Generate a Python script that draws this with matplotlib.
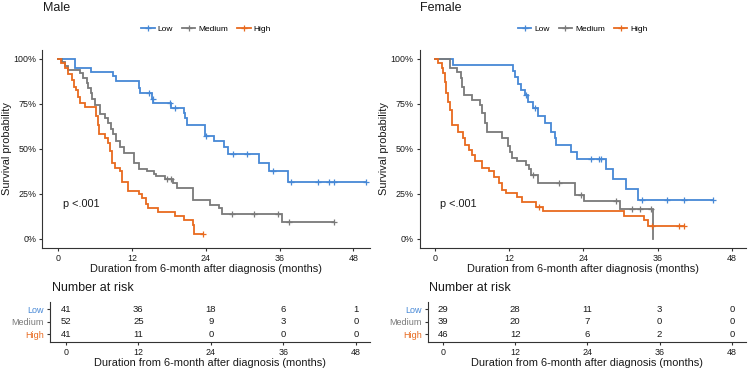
import matplotlib
matplotlib.use("Agg")
import matplotlib.pyplot as plt
from matplotlib.lines import Line2D
import numpy as np

plt.rcParams['font.family'] = ['Liberation Sans', 'DejaVu Sans']

groups = ["Low", "Medium", "High"]
colors = ["#4788D6", "#7A7A7A", "#E86A1F"]
risk_times = [0, 12, 24, 36, 48]

# ---------------- Male ----------------
male_low_t = [2.8, 5.3, 8.9, 9.5, 13.1, 13.3, 15.2, 15.5, 18.3, 20.4, 20.7, 21.0,
              23.9, 25.4, 26.9, 27.7, 32.6, 34.3, 37.3]
male_low_s = [0.952, 0.929, 0.904, 0.879, 0.840, 0.808, 0.780, 0.754, 0.726, 0.698,
              0.670, 0.635, 0.573, 0.541, 0.508, 0.472, 0.424, 0.378, 0.314]
male_low_c = [14.8, 15.4, 18.2, 19.0, 24.1, 28.4, 30.7, 34.9, 37.9, 42.3, 44.1, 44.8, 50.0]

male_med_t = [0.7, 1.1, 1.6, 3.6, 4.1, 4.65, 4.9, 5.4, 5.6, 6.0, 6.8, 7.6, 8.2, 8.6,
              9.0, 9.5, 10.1, 10.7, 12.4, 13.1, 14.4, 15.6, 15.9, 17.4, 18.75,
              19.3, 21.9, 24.7, 26.1, 26.6, 36.4]
male_med_s = [0.981, 0.962, 0.939, 0.920, 0.896, 0.865, 0.837, 0.809, 0.778, 0.744,
              0.693, 0.670, 0.643, 0.610, 0.580, 0.545, 0.510, 0.475, 0.424, 0.387,
              0.374, 0.361, 0.350, 0.331, 0.309, 0.281, 0.213, 0.189, 0.170, 0.139,
              0.091]
male_med_c = [17.7, 18.3, 28.3, 31.9, 35.7, 37.6, 44.9]

male_high_t = [0.5, 1.1, 1.7, 2.2, 2.65, 3.0, 3.3, 3.6, 4.4, 6.1, 6.45, 6.7, 7.6, 8.2,
               8.45, 8.7, 9.3, 10.1, 10.4, 11.3, 13.2, 13.6, 14.3, 14.7, 16.3, 19.0,
               20.4, 21.9, 22.1]
male_high_s = [0.976, 0.951, 0.915, 0.883, 0.846, 0.828, 0.791, 0.756, 0.732, 0.683,
               0.634, 0.585, 0.561, 0.532, 0.488, 0.420, 0.393, 0.374, 0.318, 0.268,
               0.250, 0.226, 0.194, 0.170, 0.146, 0.124, 0.106, 0.078, 0.028]
male_high_c = [23.5]

male_risk_low = [41, 36, 18, 6, 1]
male_risk_med = [52, 25, 9, 3, 0]
male_risk_high = [41, 11, 0, 0, 0]

# ---------------- Female ----------------
fem_low_t = [3.0, 12.6, 13.0, 13.5, 14.0, 14.5, 15.1, 15.8, 16.6, 17.8, 18.7, 19.4,
             19.6, 22.0, 23.0, 27.7, 28.85, 30.95, 32.85]
fem_low_s = [0.966, 0.931, 0.897, 0.862, 0.828, 0.797, 0.763, 0.726, 0.680, 0.643,
             0.596, 0.559, 0.522, 0.480, 0.441, 0.387, 0.331, 0.276, 0.218]
fem_low_c = [14.8, 16.2, 25.2, 26.5, 26.8, 33.4, 37.5, 40.3, 45.0]

fem_med_t = [2.5, 3.55, 4.2, 4.45, 4.7, 6.0, 7.3, 7.6, 8.1, 8.5, 10.8, 11.9, 12.2,
             12.4, 13.35, 14.7, 15.2, 15.6, 16.6, 22.7, 24.1, 29.9, 35.3]
fem_med_s = [0.952, 0.926, 0.893, 0.846, 0.800, 0.772, 0.744, 0.698, 0.643, 0.593,
             0.563, 0.518, 0.485, 0.448, 0.430, 0.411, 0.387, 0.356, 0.309, 0.244,
             0.211, 0.165, 0.0]
fem_med_c = [15.9, 20.0, 23.6, 29.2, 31.9, 33.2, 34.9]

fem_high_t = [0.6, 1.1, 1.4, 1.65, 1.9, 2.2, 2.5, 2.75, 3.8, 4.6, 4.9, 5.6, 6.1, 6.5,
              7.7, 8.8, 9.6, 10.4, 10.9, 11.45, 13.35, 14.15, 16.3, 17.5, 30.5, 33.8,
              34.5]
fem_high_s = [0.976, 0.948, 0.920, 0.874, 0.809, 0.763, 0.717, 0.633, 0.593, 0.559,
              0.522, 0.494, 0.467, 0.433, 0.393, 0.374, 0.346, 0.309, 0.272, 0.257,
              0.231, 0.202, 0.176, 0.152, 0.124, 0.102, 0.073]
fem_high_c = [16.8, 35.0, 39.5, 40.2]

fem_risk_low = [29, 28, 11, 3, 0]
fem_risk_med = [39, 20, 7, 0, 0]
fem_risk_high = [46, 12, 6, 2, 0]

# ---------------- Layout (pixels) ----------------
W, H = 748, 370
fig = plt.figure(figsize=(W / 100, H / 100), dpi=100)
fig.patch.set_facecolor("white")

AX_COL = "#333333"
TXT_COL = "#1a1a1a"


def rect(l, r, t, b):
    return [l / W, 1 - b / H, (r - l) / W, (b - t) / H]


def draw_curve(ax, t, s, ct, color):
    times = np.concatenate([[0.0], t])
    surv = np.concatenate([[1.0], s])
    tmax = max(times[-1], max(ct) if len(ct) else 0)
    x = np.append(times, tmax)
    y = np.append(surv, surv[-1])
    ax.step(x, y, where="post", color=color, lw=1.3, solid_joinstyle="miter")
    idx = np.searchsorted(times, ct, side="right") - 1
    ax.plot(ct, surv[idx], ls="none", marker="+", color=color, ms=5, mew=0.9)


def style_axes(ax):
    for sp in ["top", "right"]:
        ax.spines[sp].set_visible(False)
    for sp in ["left", "bottom"]:
        ax.spines[sp].set_color(AX_COL)
        ax.spines[sp].set_linewidth(0.8)
    ax.tick_params(colors=AX_COL, length=2.5, width=0.8, labelsize=6.4,
                   labelcolor=TXT_COL, pad=1.8)


def panel(title, l, r, xlim, rl, rxlim, curves, risks, title_x, nar_x):
    ax = fig.add_axes(rect(l, r, 50, 247.7))
    for (t, s, c), col in zip(curves, colors):
        draw_curve(ax, t, s, c, col)
    ax.set_xlim(*xlim)
    ax.set_ylim(-0.05, 1.05)
    ax.set_xticks(risk_times)
    ax.set_yticks([0, 0.25, 0.5, 0.75, 1.0])
    ax.set_yticklabels(["0%", "25%", "50%", "75%", "100%"])
    style_axes(ax)
    ax.text(0.8, 0.195, "p <.001", fontsize=7.8, color=TXT_COL, va="center", ha="left")
    handles = [Line2D([], [], color=c, marker="+", lw=1.3, ms=5, mew=0.9) for c in colors]
    ax.legend(handles, groups, loc="center", bbox_to_anchor=(0.5, (247.7 - 29.3) / 197.7),
              ncol=3, frameon=False, fontsize=6.0, handlelength=1.6, handletextpad=0.35,
              columnspacing=1.1, borderaxespad=0, borderpad=0)
    cx = (l + r) / 2
    fig.text(cx / W, 1 - 268.5 / H, "Duration from 6-month after diagnosis (months)",
             ha="center", va="center", fontsize=7.9, color=TXT_COL)
    fig.text((l - 35.5) / W, 1 - 148.85 / H, "Survival probability", rotation=90,
             ha="center", va="center", fontsize=7.9, color=TXT_COL)
    fig.text(title_x / W, 1 - 10.7 / H, title, ha="left", va="baseline",
             fontsize=9, color=TXT_COL)

    # risk table
    rax = fig.add_axes(rect(rl, r, 301.7, 341.7))
    rax.set_xlim(*rxlim)
    rax.set_ylim(0.4, 3.6)
    style_axes(rax)
    rax.set_xticks(risk_times)
    rax.set_yticks([3, 2, 1])
    rax.set_yticklabels(groups, fontsize=6.5)
    for lab, col in zip(rax.get_yticklabels(), colors):
        lab.set_color(col)
    for vals, y in zip(risks, [3, 2, 1]):
        for xt, v in zip(risk_times, vals):
            rax.text(xt, y, str(v), ha="center", va="center", fontsize=6.8, color=TXT_COL)
    fig.text(nar_x / W, 1 - 288.3 / H, "Number at risk", ha="left", va="center",
             fontsize=9, color=TXT_COL)
    fig.text((rl + r) / 2 / W, 1 - 362.6 / H, "Duration from 6-month after diagnosis (months)",
             ha="center", va="center", fontsize=7.9, color=TXT_COL)


panel("Male", 42.3, 370, (-2.55, 50.7), 50, (-2.6, 50.3),
      [(male_low_t, male_low_s, male_low_c), (male_med_t, male_med_s, male_med_c),
       (male_high_t, male_high_s, male_high_c)],
      [male_risk_low, male_risk_med, male_risk_high], 42.7, 51.7)

panel("Female", 419.7, 745.7, (-2.42, 50.2), 428, (-2.49, 50.3),
      [(fem_low_t, fem_low_s, fem_low_c), (fem_med_t, fem_med_s, fem_med_c),
       (fem_high_t, fem_high_s, fem_high_c)],
      [fem_risk_low, fem_risk_med, fem_risk_high], 420, 429)

fig.savefig("out.png", dpi=100, facecolor="white")
